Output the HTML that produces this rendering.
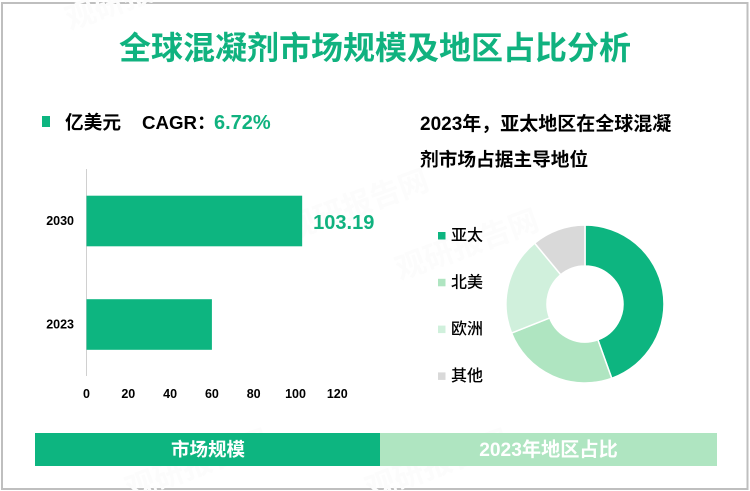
<!DOCTYPE html>
<html>
<head>
<meta charset="utf-8">
<style>
html,body{margin:0;padding:0;background:#fff;}
svg{display:block;}
text{font-family:"Liberation Sans","Noto Sans CJK SC",sans-serif;font-weight:700;}
</style>
</head>
<body>
<svg id="page" xmlns="http://www.w3.org/2000/svg" width="750" height="491" viewBox="0 0 750 491">
  <rect x="2" y="3" width="745.5" height="486" fill="#fff" stroke="#bfbfbf" stroke-width="2"/>
  <g fill="#fcfcfc" font-size="30">
    <text x="70" y="30" transform="rotate(-20 70 30)">观研报告网</text>
    <text x="290" y="240" transform="rotate(-20 290 240)">观研报告网</text>
    <text x="400" y="280" transform="rotate(-20 400 280)">观研报告网</text>
    <text x="130" y="500" transform="rotate(-20 130 500)">观研报告网</text>
    <text x="370" y="500" transform="rotate(-20 370 500)">观研报告网</text>
  </g>
  <text x="375" y="59" text-anchor="middle" font-size="32" fill="#10b27f">全球混凝剂市场规模及地区占比分析</text>

  <rect x="42" y="116" width="8" height="11" fill="#0db580"/>
  <text x="65" y="129" font-size="18.7" fill="#000">亿美元</text>
  <text x="142" y="129" font-size="18.7" fill="#000">CAGR：</text>
  <text x="214" y="129" font-size="20" fill="#10b27f">6.72%</text>

  <line x1="86.5" y1="169" x2="86.5" y2="376" stroke="#d0d0d0" stroke-width="1"/>
  <g id="bars"></g>
  <g id="xticks"></g>

  <text x="420" y="130" font-size="19" fill="#000">2023年，亚太地区在全球混凝</text>
  <text x="420" y="166" font-size="18.7" fill="#000">剂市场占据主导地位</text>

  <g id="donut"></g>
  <g id="legend"></g>

  <rect x="35" y="433" width="345" height="33" fill="#0db580"/>
  <rect x="380" y="433" width="337" height="33" fill="#afe5c1"/>
  <text x="208" y="456" text-anchor="middle" font-size="18.5" fill="#fff">市场规模</text>
  <text x="548.5" y="456" text-anchor="middle" font-size="19.2" fill="#fff">2023年地区占比</text>
</svg>
<script>
var barCategories = ['2030', '2023'];
var barValues = [103.19, 60];
var barLabels = ['103.19', ''];
var xTickValues = [0, 20, 40, 60, 80, 100, 120];
var regionNames = ['亚太', '北美', '欧洲', '其他'];
var regionShares = [44.5, 24.5, 20, 11];
var regionColors = ['#0db580', '#afe5c1', '#d0f0dc', '#d9d9d9'];

var NS = 'http://www.w3.org/2000/svg';
function make(tag, attrs, parent, txt) {
  var el = document.createElementNS(NS, tag);
  for (var k in attrs) el.setAttribute(k, attrs[k]);
  if (txt !== undefined) el.textContent = txt;
  parent.appendChild(el);
  return el;
}
function xScale(v) { return 86.5 + v * 2.09; }
function bandCenter(i) { return 221 + i * 103.5; }

var barsG = document.getElementById('bars');
barCategories.forEach(function (cat, i) {
  var cy = bandCenter(i);
  var bar = make('rect', {x: xScale(0), y: cy - 25.3, width: xScale(barValues[i]) - xScale(0), height: 50.6, fill: '#0db580'}, barsG);
  
  
  var lab = make('text', {x: 74, y: cy + 4, 'text-anchor': 'end', 'font-size': 12.5, fill: '#000'}, barsG, cat);
  
  
  if (barLabels[i]) {
    var val = make('text', {x: xScale(barValues[i]) + 11, y: cy + 8, 'font-size': 20, fill: '#10b27f'}, barsG, barLabels[i]);
    
    
  }
});

var ticksG = document.getElementById('xticks');
xTickValues.forEach(function (t) {
  var tick = make('text', {x: xScale(t), y: 398, 'text-anchor': 'middle', 'font-size': 12.5, fill: '#000'}, ticksG, String(t));
  
  
});

var donutG = document.getElementById('donut');
var cx = 585, cy = 304, rO = 79, rI = 38;
var total = regionShares.reduce(function (a, b) { return a + b; }, 0);
var acc = 0;
function pt(r, a) { return (cx + r * Math.sin(a)).toFixed(2) + ' ' + (cy - r * Math.cos(a)).toFixed(2); }
regionShares.forEach(function (v, i) {
  var a0 = acc / total * 2 * Math.PI;
  acc += v;
  var a1 = acc / total * 2 * Math.PI;
  var large = (a1 - a0) > Math.PI ? 1 : 0;
  var d = 'M' + pt(rO, a0) + ' A' + rO + ' ' + rO + ' 0 ' + large + ' 1 ' + pt(rO, a1) +
          ' L' + pt(rI, a1) + ' A' + rI + ' ' + rI + ' 0 ' + large + ' 0 ' + pt(rI, a0) + ' Z';
  var slice = make('path', {d: d, fill: regionColors[i], stroke: '#fff', 'stroke-width': 1.5}, donutG);
  
  
});

var legendG = document.getElementById('legend');
regionNames.forEach(function (n, i) {
  var y = 235.5 + i * 46.8;
  var sw = make('rect', {x: 438, y: y - 3.5, width: 7.5, height: 7.5, fill: regionColors[i]}, legendG);
  
  
  var tx = make('text', {x: 451, y: y + 5, 'font-size': 16, style: 'font-weight:500', fill: '#000'}, legendG, n);
  
  
});
</script>
</body>
</html>
